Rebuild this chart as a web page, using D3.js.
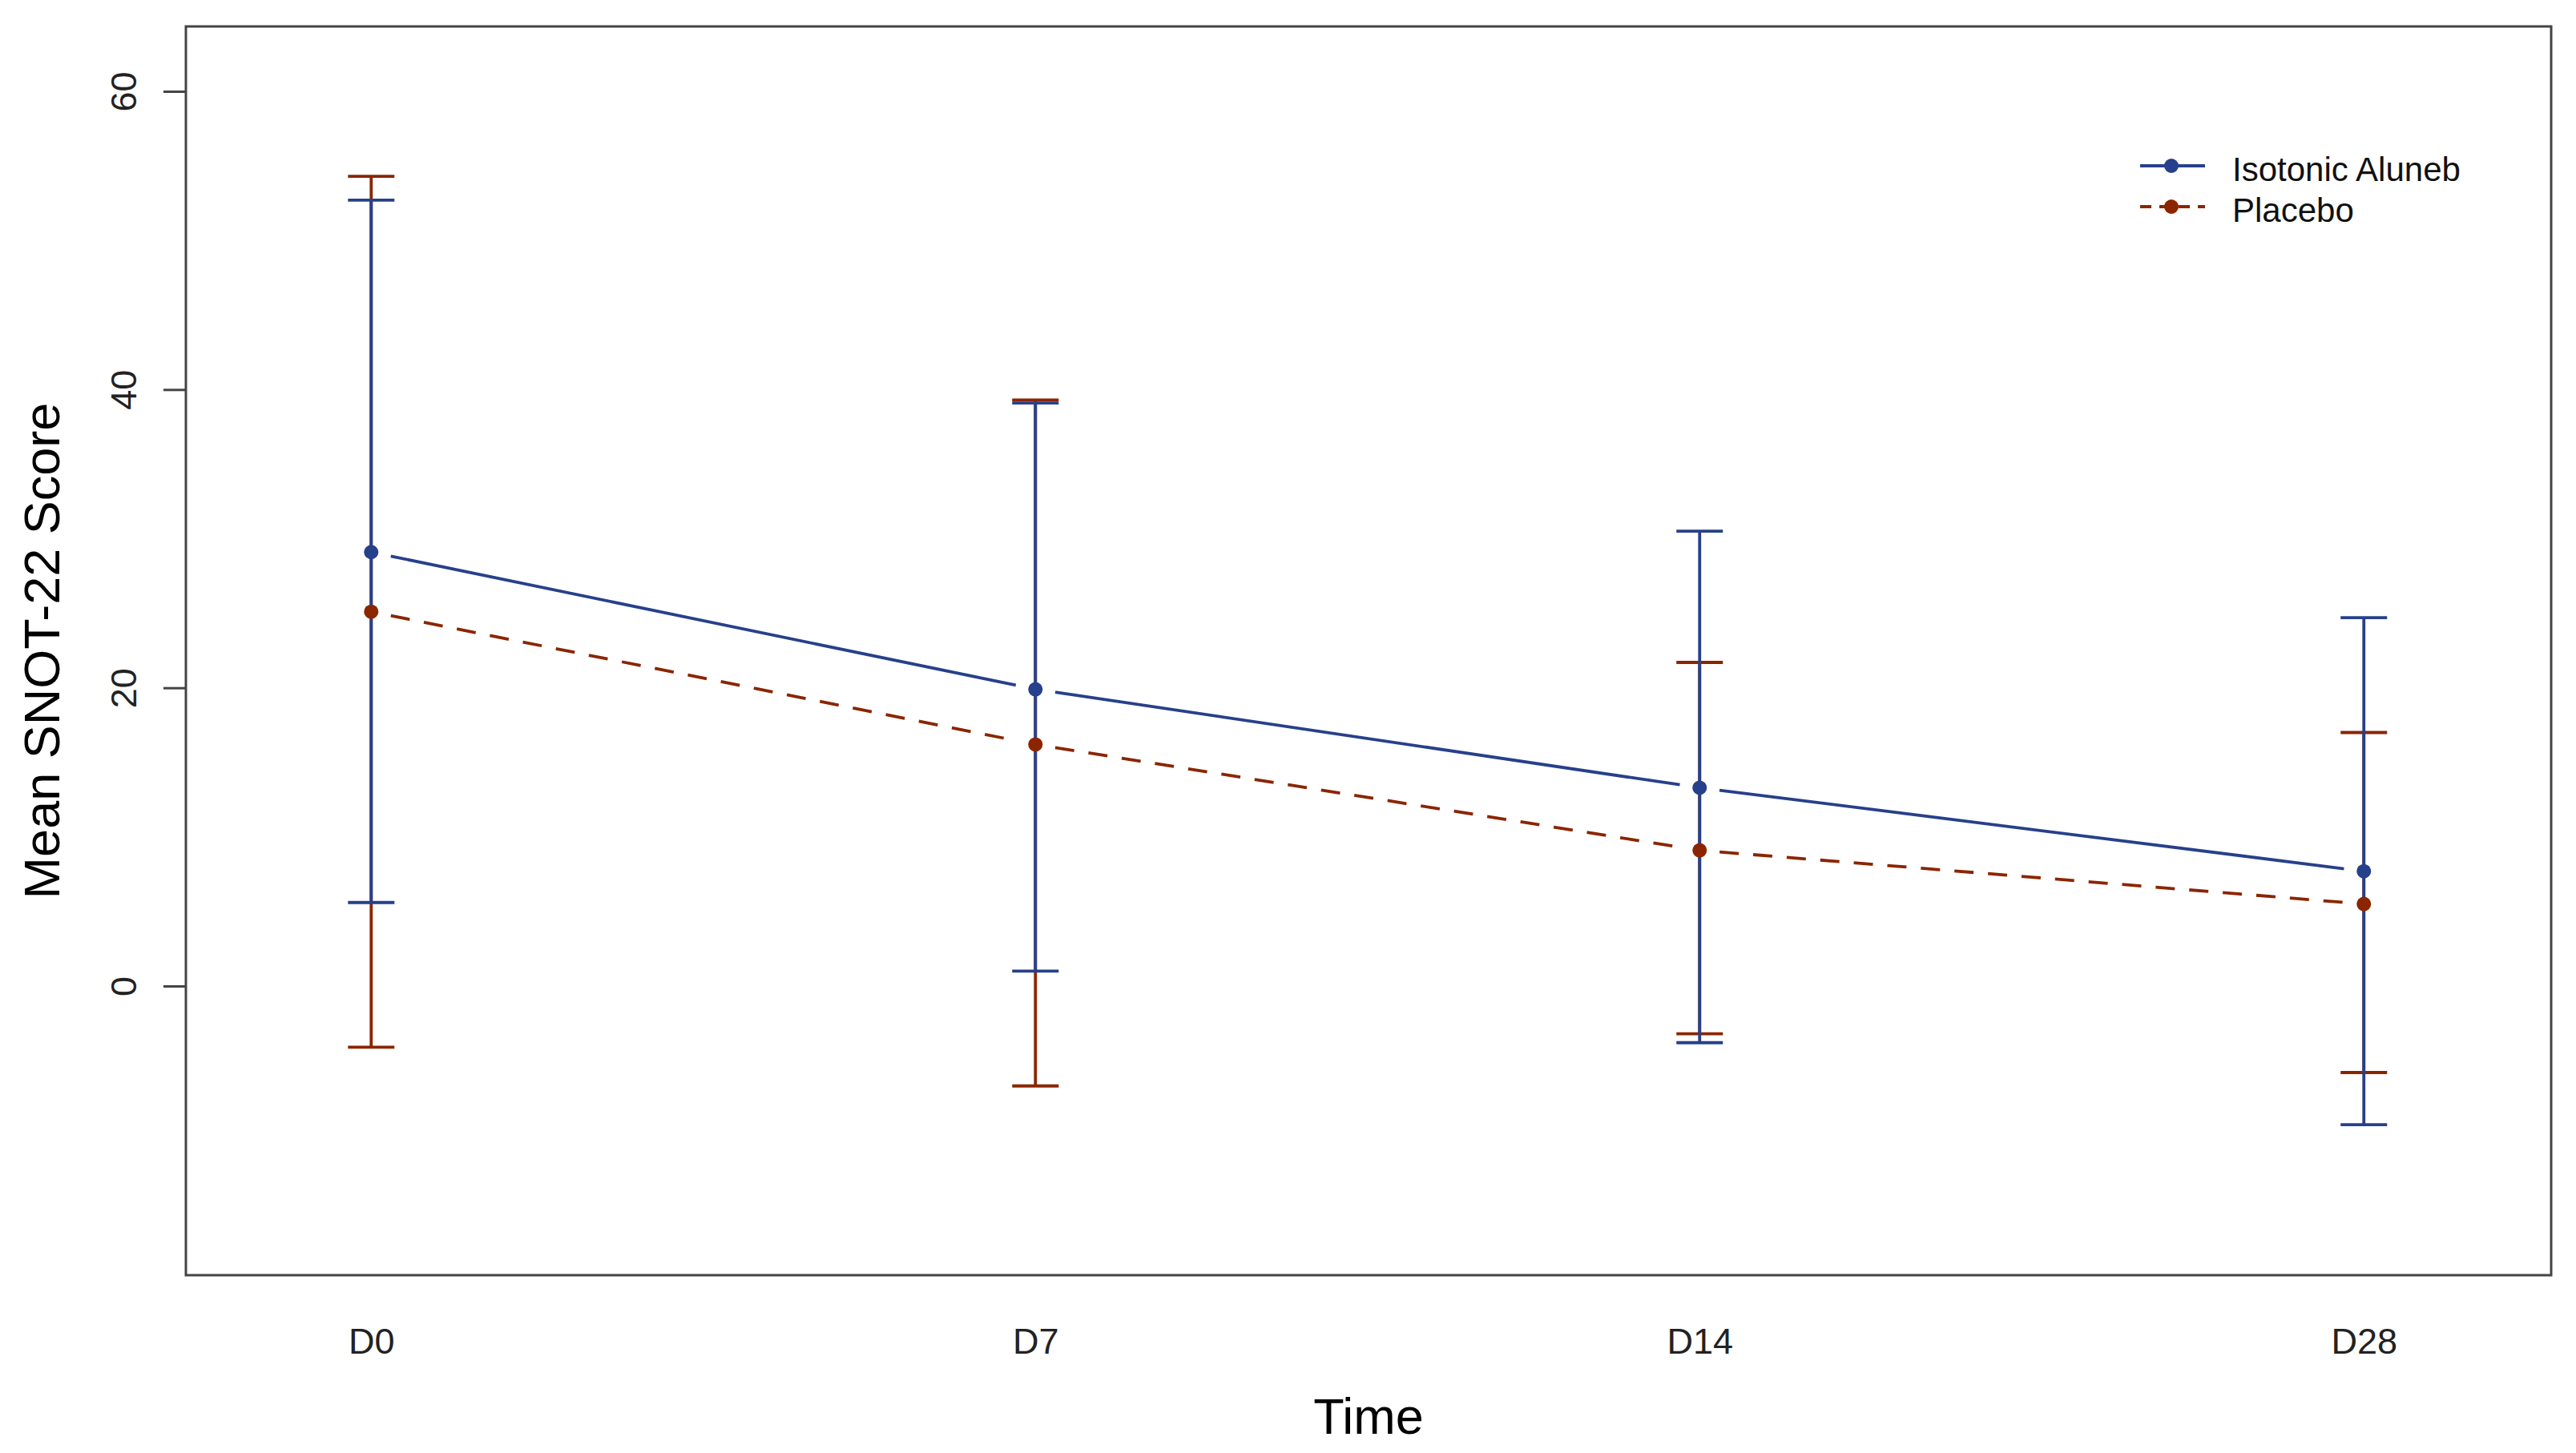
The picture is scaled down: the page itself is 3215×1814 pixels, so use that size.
<!DOCTYPE html>
<html>
<head>
<meta charset="utf-8">
<script src="https://cdn.jsdelivr.net/npm/d3@7"></script>
<style>
  body{margin:0;background:#fff;}
  text{font-family:"Liberation Sans", Arial, sans-serif;}
</style>
</head>
<body>
<div id="chart"></div>
<script>
// data
const timeLabels = ["D0", "D7", "D14", "D28"];
const alunebMean  = [29.1, 19.9, 13.3, 7.7];
const alunebUpper = [52.7, 39.1, 30.5, 24.7];
const alunebLower = [5.6, 1.0, -3.8, -9.3];
const placeboMean  = [25.1, 16.2, 9.1, 5.5];
const placeboUpper = [54.3, 39.3, 21.7, 17.0];
const placeboLower = [-4.1, -6.7, -3.2, -5.8];
const yTicks = [0, 20, 40, 60];
const seriesNames = ["Isotonic Aluneb", "Placebo"];

let draw = function(){
    const width = 3215, height = 1814;
    const margin = {top: 33, right: 31, bottom: 222, left: 232};
    const blue = "#27408B", red = "#8B2500";
    const lw = 3.8;

    var svg = d3.select("#chart").append("svg").attr("width", width).attr("height", height);

    var xScale = d3.scaleLinear().domain([0.721, 4.282]).range([margin.left, width - margin.right]);
    var yScale = d3.scaleLinear().domain([-19.39, 64.35]).range([height - margin.bottom, margin.top]);

    // y axis, R style rotated labels
    var yAxis = d3.axisLeft(yScale).tickValues(yTicks).tickSize(28).tickFormat(d3.format("d"));
    var gy = svg.append("g").attr("transform", "translate(" + margin.left + ",0)").call(yAxis);
    gy.select(".domain").remove();
    gy.selectAll(".tick line").attr("stroke", "#444").attr("stroke-width", 3);
    gy.selectAll(".tick text")
        .attr("transform", "rotate(-90)")
        .attr("x", 0).attr("y", -62).attr("dy", null)
        .attr("text-anchor", "middle")
        .attr("font-size", 45).attr("fill", "#222")
        .style("font-family", "Liberation Sans, Arial, sans-serif");

    // x labels, no tick marks
    var xAxis = d3.axisBottom(xScale).tickValues([1, 2, 3, 4]).tickSize(0).tickFormat((d, i) => timeLabels[i]);
    var gx = svg.append("g").attr("transform", "translate(0," + (height - margin.bottom) + ")").call(xAxis);
    gx.select(".domain").remove();
    gx.selectAll(".tick text")
        .attr("y", 98).attr("dy", null)
        .attr("font-size", 45).attr("fill", "#222")
        .style("font-family", "Liberation Sans, Arial, sans-serif");

    // box
    svg.append("rect")
        .attr("x", margin.left).attr("y", margin.top)
        .attr("width", width - margin.left - margin.right)
        .attr("height", height - margin.top - margin.bottom)
        .attr("fill", "none").attr("stroke", "#444").attr("stroke-width", 3);

    var series = [
        {name: seriesNames[1], mean: placeboMean, up: placeboUpper, lo: placeboLower, color: red, dash: "24,18"},
        {name: seriesNames[0], mean: alunebMean, up: alunebUpper, lo: alunebLower, color: blue, dash: null}
    ];

    // error bars (placebo first, aluneb on top)
    series.forEach(function(s){
        var g = svg.append("g").attr("stroke", s.color).attr("stroke-width", lw);
        s.mean.forEach(function(m, i){
            var x = xScale(i + 1);
            g.append("line").attr("x1", x).attr("x2", x).attr("y1", yScale(s.lo[i])).attr("y2", yScale(s.up[i]));
            g.append("line").attr("x1", x - 29).attr("x2", x + 29).attr("y1", yScale(s.up[i])).attr("y2", yScale(s.up[i]));
            g.append("line").attr("x1", x - 29).attr("x2", x + 29).attr("y1", yScale(s.lo[i])).attr("y2", yScale(s.lo[i]));
        });
    });

    // lines with gaps around the points (type = "b")
    const gap = 25;
    series.forEach(function(s){
        var pts = s.mean.map((m, i) => [xScale(i + 1), yScale(m)]);
        for (var i = 0; i < pts.length - 1; i++){
            var a = pts[i], b = pts[i + 1];
            var dx = b[0] - a[0], dy = b[1] - a[1], len = Math.sqrt(dx*dx + dy*dy);
            var ux = dx/len, uy = dy/len;
            svg.append("line")
                .attr("x1", a[0] + ux*gap).attr("y1", a[1] + uy*gap)
                .attr("x2", b[0] - ux*gap).attr("y2", b[1] - uy*gap)
                .attr("stroke", s.color).attr("stroke-width", lw)
                .attr("stroke-dasharray", s.dash);
        }
    });

    series.forEach(function(s){
        svg.append("g").selectAll("circle").data(s.mean).enter().append("circle")
            .attr("cx", (d, i) => xScale(i + 1))
            .attr("cy", d => yScale(d))
            .attr("r", 9)
            .attr("fill", s.color);
    });

    // legend
    var legend = [
        {name: seriesNames[0], color: blue, dash: null, y: 207},
        {name: seriesNames[1], color: red, dash: "14,10", y: 258}
    ];
    legend.forEach(function(l){
        svg.append("line").attr("x1", 2671).attr("x2", 2752).attr("y1", l.y).attr("y2", l.y)
            .attr("stroke", l.color).attr("stroke-width", lw).attr("stroke-dasharray", l.dash);
        svg.append("circle").attr("cx", 2710).attr("cy", l.y).attr("r", 9).attr("fill", l.color);
        svg.append("text").attr("x", 2786).attr("y", l.y + 19).attr("font-size", 42).attr("fill", "#111").text(l.name);
    });

    // axis titles
    svg.append("text").attr("x", (margin.left + width - margin.right)/2).attr("y", 1790)
        .attr("text-anchor", "middle").attr("font-size", 63).attr("fill", "#000").text("Time");
    svg.append("text").attr("transform", "translate(74," + ((margin.top + height - margin.bottom)/2) + ") rotate(-90)")
        .attr("text-anchor", "middle").attr("font-size", 63).attr("fill", "#000").text("Mean SNOT-22 Score");
}

draw();
</script>
</body>
</html>
